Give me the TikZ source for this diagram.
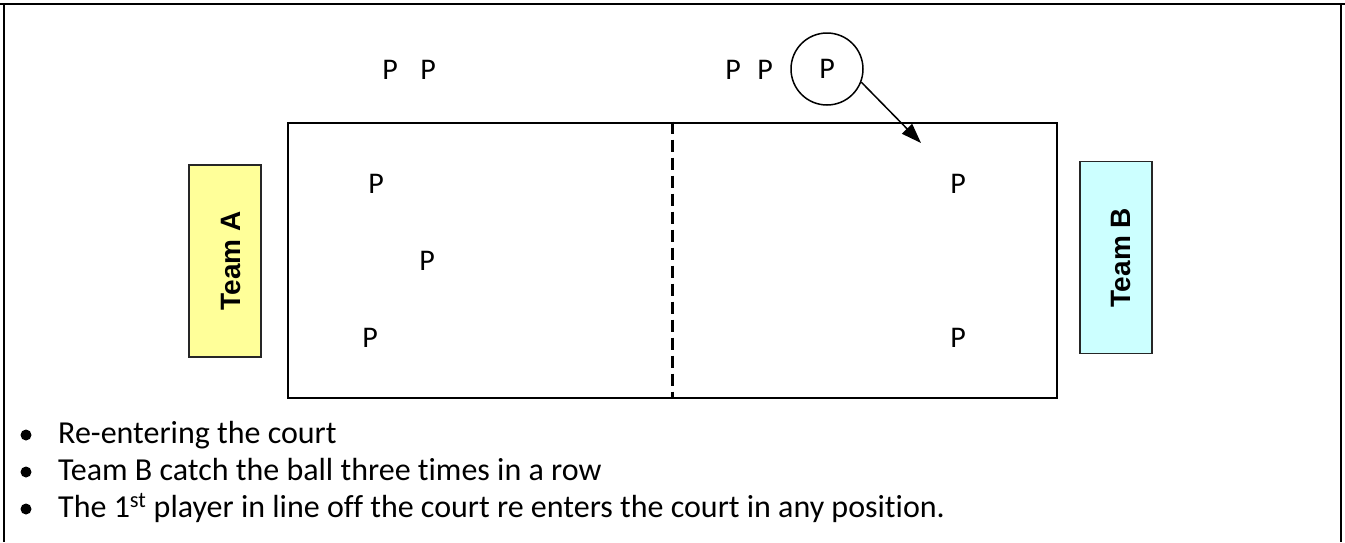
\documentclass[tikz,border=0pt]{standalone}
\usepackage{fontspec}
\setmainfont{Carlito}[Ligatures=NoCommon]
\newfontfamily\teamfont{Liberation Sans}
\usetikzlibrary{arrows.meta}
\definecolor{teamyellow}{HTML}{FFFF99}
\definecolor{teamcyan}{HTML}{CCFFFF}
\begin{document}
\begin{tikzpicture}[x=1pt,y=-1pt,
  frameline/.style={line width=2.5pt},
  courtbox/.style={draw, line width=2.8pt, inner sep=0pt, minimum width=769pt, minimum height=275pt},
  netline/.style={line width=3pt, dash pattern=on 12pt off 6pt},
  teambox/.style={draw=black!85, line width=1.5pt, inner sep=0pt, minimum width=72pt, minimum height=192pt},
  teamlabel/.style={rotate=90, inner sep=0pt, font=\teamfont\bfseries\fontsize{28}{28}\selectfont},
  player/.style={inner sep=0pt, font=\fontsize{30}{36}\selectfont},
  ringed/.style={draw, circle, line width=1.5pt, minimum size=72pt},
  arrowline/.style={line width=1.5pt, -{Triangle[length=20pt,width=14pt]}},
  bullettext/.style={anchor=base west, inner sep=0pt, font=\fontsize{32}{38}\selectfont},
  bulletdot/.style={circle, fill=black, minimum size=11pt, inner sep=0pt}
]
\useasboundingbox (0,0) rectangle (1345,542);
% frame of the cell
\draw[frameline] (0,4) -- (1345,4);
\draw[frameline] (4,4) -- (4,542);
\draw[frameline] (1341,4) -- (1341,542);

% court and net
\node[courtbox] (court) at (672.5,260.5) {};
\draw[netline] (court.north) -- (court.south);

% team boxes
\node[teambox, fill=teamyellow] (teamA) at (225,261) {};
\node[teamlabel] (teamAlabel) at (231,261) {Team A};
\node[teambox, fill=teamcyan] (teamB) at (1116,257.5) {};
\node[teamlabel] (teamBlabel) at (1121,257.5) {Team B};

% players off the court
\node[player] (pa1) at (390,70) {P};
\node[player] (pa2) at (428,70) {P};
\node[player] (pb1) at (733,70) {P};
\node[player] (pb2) at (765,70) {P};
\node[player, ringed] (pc) at (827,69) {P};

% players on the court
\node[player] (ca1) at (376,184) {P};
\node[player] (ca2) at (427,261) {P};
\node[player] (ca3) at (370,338) {P};
\node[player] (cb1) at (958,184) {P};
\node[player] (cb2) at (958,338) {P};

% re-entry arrow
\coordinate (tip) at (921,143);
\draw[arrowline] (pc.-21) -- (tip);

% bullet list
\node[bulletdot] (d1) at (26,435) {};
\node[bullettext] (t1) at (58,443) {Re-entering the court};
\node[bulletdot] (d2) at (26,472) {};
\node[bullettext] (t2) at (58,480) {Team B catch the ball three times in a row};
\node[bulletdot] (d3) at (26,509) {};
\node[bullettext] (t3) at (58,517) {The 1\textsuperscript{st} player in line off the court re enters the court in any position.};
\end{tikzpicture}
\end{document}
